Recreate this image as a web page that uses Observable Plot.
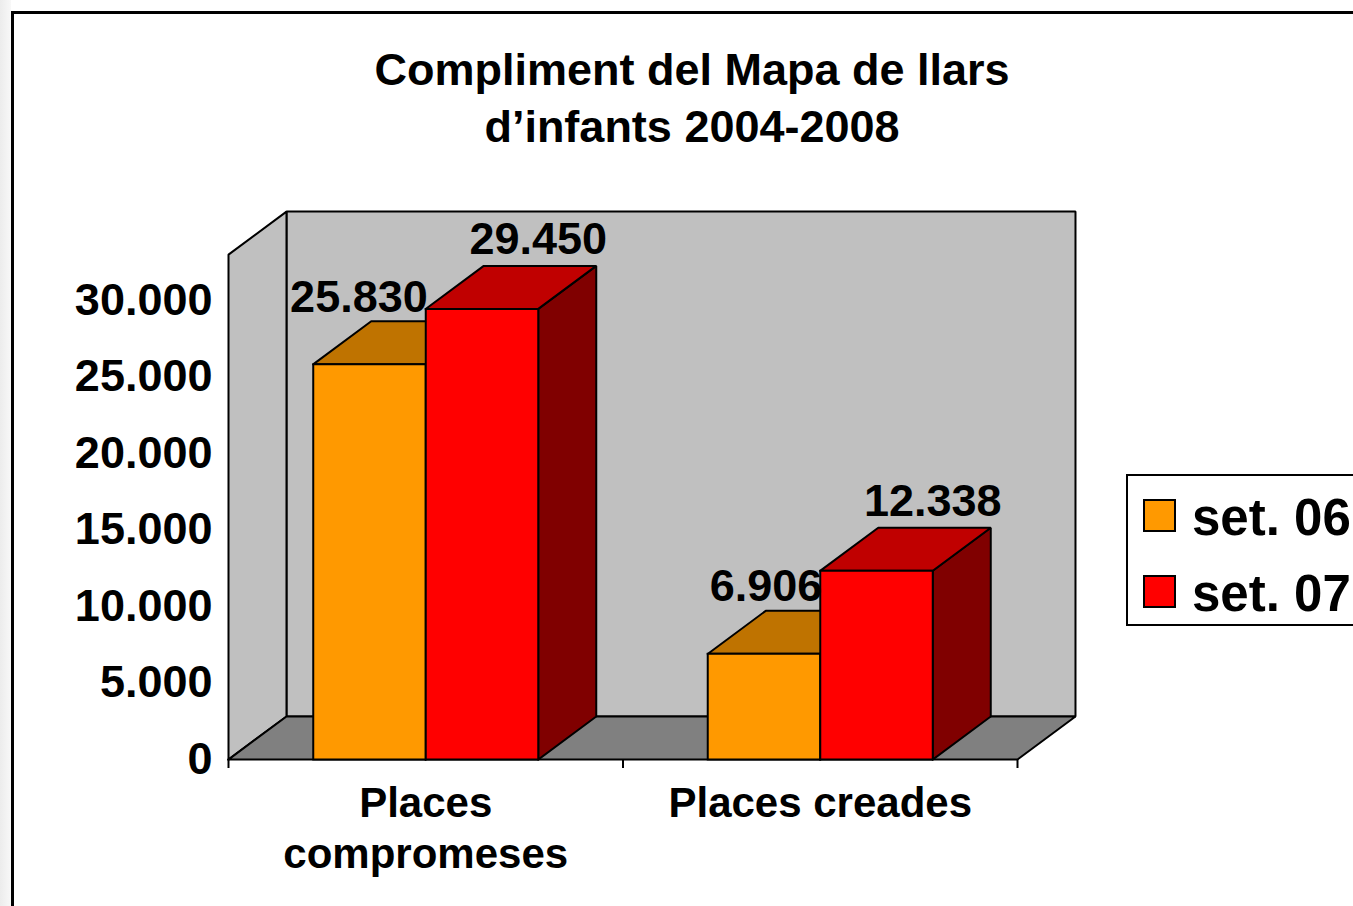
<!DOCTYPE html>
<html><head><meta charset="utf-8">
<script src="https://cdn.jsdelivr.net/npm/d3@7"></script>
<script src="https://cdn.jsdelivr.net/npm/@observablehq/plot@0.6"></script>
<style>
html,body{margin:0;padding:0;background:#fff;}
#page{position:relative;width:1353px;height:906px;overflow:hidden;background:#fff;font-family:"Liberation Sans",Arial,sans-serif;font-weight:bold;color:#000;}
#leftshade{position:absolute;left:0;top:0;width:11px;height:906px;background:linear-gradient(to right,#ececec,#f8f8f8);}
#border{position:absolute;left:11px;top:11px;width:1400px;height:1000px;border:3px solid #000;box-sizing:border-box;}
#title{position:absolute;left:0;top:41px;width:1384px;text-align:center;font-size:45px;line-height:57px;white-space:pre;}
#chart{position:absolute;left:0;top:0;}
#legend{position:absolute;left:1126px;top:474px;width:400px;height:152px;border:2px solid #000;box-sizing:border-box;background:#fff;}
.sw{position:absolute;left:15px;width:33px;height:33px;border:2px solid #000;box-sizing:border-box;}
.lt{position:absolute;left:64px;font-size:51px;line-height:51px;white-space:pre;}
</style></head><body>
<div id="page">
  <div id="leftshade"></div>
  <div id="border"></div>
  <div id="chart"></div>
  <div id="title"></div>
  <div id="legend"></div>
</div>
<script>
// ---- data ----
const categories = ["Places\ncompromeses", "Places creades"];
const series = ["set. 06", "set. 07"];
const values06 = [25830, 6906];
const values07 = [29450, 12338];
const yTicks = [0, 5000, 10000, 15000, 20000, 25000, 30000];
const titleLines = ["Compliment del Mapa de llars", "d’infants 2004-2008"];

// ---- styles / geometry constants ----
const frontColors = ["#FF9900", "#FF0000"];
const topColors = ["#BF7300", "#C00000"];
const sideColors = ["#7F4C00", "#800000"];
const barW = 0.2852;          // bar width in category units
const depthX = 0.147;         // 3D depth, category units
const depthY = 2810;          // 3D depth, value units
const wallTop = 33000;        // top of the walls, value units

const loc = d3.formatLocale({decimal: ",", thousands: ".", grouping: [3], currency: ["", " €"]});
const fmt = loc.format(",d");

function poly(pts, fill) {
  return Plot.line([...pts, pts[0]], {
    x: d => d[0], y: d => d[1], fill, stroke: "#000", strokeWidth: 2,
    strokeLinejoin: "miter", strokeLinecap: "square", curve: "linear"
  });
}

const marks = [];
// walls and floor
marks.push(poly([[depthX, depthY], [2 + depthX, depthY], [2 + depthX, wallTop + depthY], [depthX, wallTop + depthY]], "#C0C0C0"));
marks.push(poly([[0, 0], [0, wallTop], [depthX, wallTop + depthY], [depthX, depthY]], "#C0C0C0"));
marks.push(poly([[0, 0], [depthX, depthY], [2 + depthX, depthY], [2, 0]], "#808080"));

// bars
const seriesValues = [values06, values07];
categories.forEach((c, i) => {
  seriesValues.forEach((vals, s) => {
    const v = vals[i];
    const x0 = i + 0.5 - barW + s * barW, x1 = x0 + barW;
    marks.push(poly([[x1, 0], [x1 + depthX, depthY], [x1 + depthX, v + depthY], [x1, v]], sideColors[s]));
    marks.push(poly([[x0, v], [x1, v], [x1 + depthX, v + depthY], [x0 + depthX, v + depthY]], topColors[s]));
    marks.push(poly([[x0, 0], [x1, 0], [x1, v], [x0, v]], frontColors[s]));
  });
});

// axis ticks on the category axis
marks.push(Plot.axisX({ticks: [0, 1, 2], tickSize: 9, tickFormat: () => "", strokeWidth: 2}));

const font = {fontFamily: "Liberation Sans, Arial, sans-serif", fontWeight: "bold", fill: "#000"};
// value axis labels
marks.push(Plot.text(yTicks, {x: () => 0, y: d => d, text: d => fmt(d), textAnchor: "end", dx: -16, lineAnchor: "middle", fontSize: 45, ...font}));
// category labels
marks.push(Plot.text(categories, {x: (d, i) => i + 0.5, y: () => 0, text: d => d, lineAnchor: "top", dy: 21, fontSize: 42, lineHeight: 51 / 42, ...font}));
// value labels
marks.push(Plot.text(values06, {x: (d, i) => i + 0.5, y: d => d, text: d => fmt(d), textAnchor: "end", dx: 2, dy: -67, lineAnchor: "middle", fontSize: 45, ...font}));
marks.push(Plot.text(values07, {x: (d, i) => i + 0.5 + barW, y: d => d, text: d => fmt(d), dy: -69, lineAnchor: "middle", fontSize: 45, ...font}));

const chart = Plot.plot({
  width: 1353, height: 906,
  marginLeft: 228, marginRight: 336, marginTop: 300, marginBottom: 147,
  x: {domain: [0, 2], axis: null},
  y: {domain: [0, 30000], axis: null},
  style: {background: "transparent", overflow: "visible"},
  marks
});
document.getElementById("chart").appendChild(chart);

document.getElementById("title").textContent = titleLines.join("\n");

const legend = document.getElementById("legend");
series.forEach((s, k) => {
  const sw = document.createElement("div");
  sw.className = "sw"; sw.style.top = (23 + k * 76) + "px"; sw.style.background = frontColors[k];
  legend.appendChild(sw);
  const t = document.createElement("div");
  t.className = "lt"; t.style.top = (16 + k * 76) + "px"; t.textContent = s;
  legend.appendChild(t);
});
</script>
</body></html>
